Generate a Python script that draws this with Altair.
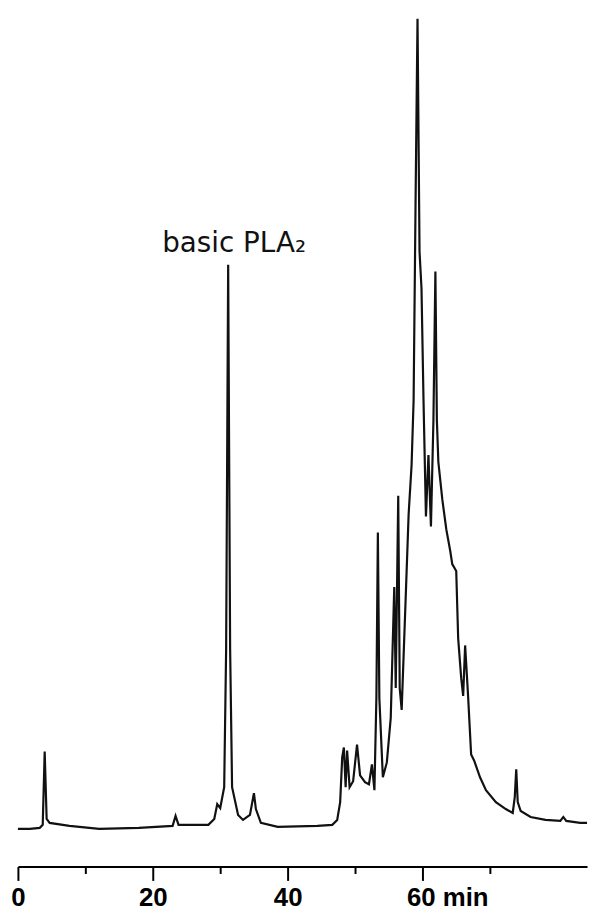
import altair as alt
import pandas as pd

# Retention time (min) and detector signal (arbitrary units)
time_min = [0.00, 1.76, 3.24, 3.68, 3.97, 4.26, 4.71, 7.65, 12.06, 17.94,
            22.94, 23.38, 23.82, 28.24, 29.12, 29.56, 30.00, 30.59, 30.88, 31.18,
            31.47, 31.76, 32.65, 33.38, 34.41, 35.00, 35.29, 36.03, 38.53, 44.41,
            46.62, 47.35, 47.79, 48.09, 48.34, 48.60, 48.82, 49.19, 49.71, 50.29,
            50.74, 51.47, 52.06, 52.50, 52.87, 53.16, 53.38, 53.60, 54.12, 54.71,
            55.29, 55.81, 56.03, 56.40, 56.62, 56.91, 57.50, 57.94, 58.38, 58.68,
            58.97, 59.26, 59.56, 59.85, 60.15, 60.51, 60.88, 61.25, 61.62, 61.91,
            62.13, 62.35, 62.94, 63.53, 64.12, 64.41, 65.00, 65.29, 65.74, 66.03,
            66.32, 66.76, 67.21, 67.65, 68.53, 69.41, 70.88, 72.35, 73.38, 73.68,
            73.90, 74.12, 74.56, 76.03, 78.24, 80.44, 80.88, 81.32, 83.38, 84.40]
signal = [38, 38, 39, 42, 116, 48, 44, 41, 38, 39,
          41, 51, 42, 42, 48, 63, 59, 80, 220, 607,
          220, 80, 52, 47, 52, 74, 58, 44, 40, 41,
          42, 47, 65, 110, 120, 80, 117, 80, 86, 123,
          92, 85, 83, 103, 77, 170, 337, 170, 90, 105,
          150, 282, 180, 374, 180, 158, 270, 355, 405, 470,
          670, 855, 620, 583, 470, 353, 415, 343, 450, 600,
          450, 408, 370, 340, 318, 305, 298, 230, 190, 172,
          223, 172, 113, 107, 90, 77, 65, 58, 54, 70,
          98, 65, 56, 50, 47, 46, 50, 46, 44, 44]

tick_values = [0, 10, 20, 30, 40, 50, 60, 70]

annot_label = ["basic PLA\u2082"]
annot_time = [31.18]
annot_signal = [620]

trace = pd.DataFrame({"time": time_min, "signal": signal})
annot = pd.DataFrame({"label": annot_label, "time": annot_time, "signal": annot_signal})

x_scale = alt.Scale(domain=[0, 84.4], nice=False, zero=False)
y_scale = alt.Scale(domain=[0, 862], nice=False, zero=True)

x_axis = alt.Axis(
    values=tick_values,
    title=None,
    grid=False,
    domainColor="black",
    domainWidth=2,
    tickColor="black",
    tickWidth=2,
    tickSize={"condition": {"test": "datum.value % 20 != 0", "value": 7}, "value": 14},
    labelExpr='datum.value % 20 != 0 ? "" : (datum.value == 60 ? "60 min" : datum.label)',
    labelOffset={"condition": {"test": "datum.value == 60", "value": 25}, "value": 0},
    labelFlush=False,
    labelOverlap=False,
    labelFont="Liberation Sans",
    labelFontSize=26,
    labelFontWeight="bold",
    labelColor="black",
    labelPadding=4,
)

line = alt.Chart(trace).mark_line(color="#111111", strokeWidth=2.2, interpolate="linear").encode(
    x=alt.X("time:Q", scale=x_scale, axis=x_axis),
    y=alt.Y("signal:Q", scale=y_scale, axis=None),
    order="time:Q",
)

text = alt.Chart(annot).mark_text(
    align="center", baseline="alphabetic", dx=6,
    font="DejaVu Sans", fontSize=28, color="#111111",
).encode(
    x=alt.X("time:Q", scale=x_scale),
    y=alt.Y("signal:Q", scale=y_scale),
    text="label:N",
)

chart = alt.layer(line, text).properties(
    width=574, height=862,
    padding={"left": 2, "right": 0, "top": 0, "bottom": 0},
).configure_view(strokeWidth=0)

chart.save("out.html", embed_options={"renderer": "svg", "actions": False})
